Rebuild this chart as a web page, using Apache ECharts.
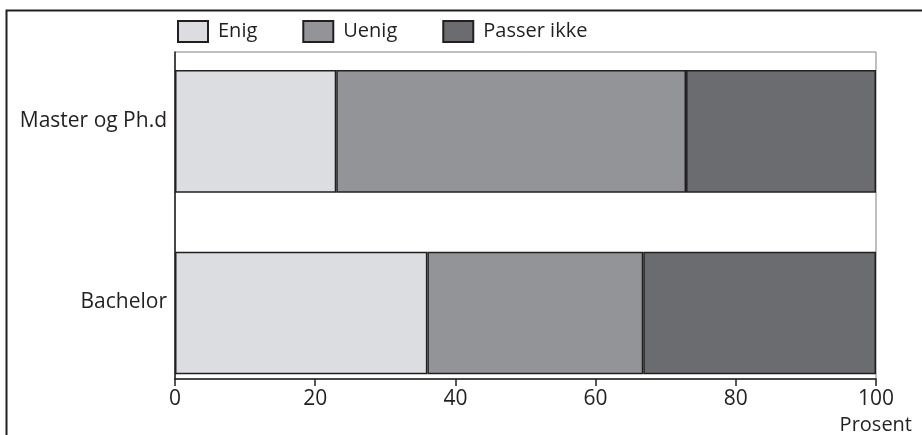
<!DOCTYPE html>
<html>
<head>
<meta charset="utf-8">
<script src="https://cdn.jsdelivr.net/npm/echarts@6/dist/echarts.min.js"></script>
<style>html,body{margin:0;padding:0;background:#fff;}#c{width:922px;height:435px;}</style>
</head>
<body>
<div id="c"></div>
<script>
const categories = ['Master og Ph.d', 'Bachelor'];
const seriesNames = ['Enig', 'Uenig', 'Passer ikke'];
const enig = [23.0, 36.0];
const uenig = [49.9, 30.8];
const passerIkke = [27.1, 33.2];
const xTicks = [0, 20, 40, 60, 80, 100];
const axisName = 'Prosent';

const colors = ['#dcdde0', '#939497', '#6b6c70'];
const dark = '#231f20';
const font = 'Open Sans';
const values = [enig, uenig, passerIkke];

const chart = echarts.init(document.getElementById('c'), null, {renderer: 'canvas'});
chart.setOption({
  animation: false,
  backgroundColor: '#fff',
  textStyle: {fontFamily: font, color: dark},
  graphic: [{
    type: 'rect', left: 4, top: 8, silent: true, z: -10,
    shape: {width: 1000, height: 1000},
    style: {fill: 'none', stroke: dark, lineWidth: 2}
  }],
  legend: {
    left: 172, top: 15,
    itemWidth: 30, itemHeight: 21, itemGap: 45,
    icon: 'rect',
    textStyle: {fontFamily: font, fontSize: 20, color: dark, padding: [0,0,0,5]},
    data: seriesNames
  },
  grid: [
    {left: 175, right: 46, top: 40.6, bottom: 31.2},
    {left: 175, right: 46, top: 52, bottom: 53, show: true, borderColor: '#808080', borderWidth: 1, backgroundColor: 'transparent'}
  ],
  xAxis: [
    {gridIndex: 0, type: 'value', min: 0, max: 100, interval: 20, show: false},
    {gridIndex: 1, type: 'value', min: 0, max: 100, interval: 20,
     splitLine: {show: false},
     axisLine: {show: true, lineStyle: {color: dark, width: 1.5}},
     axisTick: {show: true, length: 7, lineStyle: {color: dark, width: 1.5}},
     axisLabel: {fontFamily: font, fontSize: 21, color: dark, margin: 10,
       formatter: v => xTicks.includes(v) ? String(v) : ''},
     name: axisName, nameLocation: 'end', nameGap: 36,
     nameTextStyle: {fontFamily: font, fontSize: 20, color: dark, align: 'right', verticalAlign: 'top', padding: [36,0,0,0]}
    }
  ],
  yAxis: [
    {gridIndex: 0, type: 'category', inverse: true, data: categories,
     axisLine: {show: false}, axisTick: {show: false},
     axisLabel: {fontFamily: font, fontSize: 21, color: dark, margin: 8, verticalAlign: 'bottom'}
    },
    {gridIndex: 1, type: 'category', inverse: true, data: categories,
     axisLine: {show: true, lineStyle: {color: dark, width: 1.5}},
     axisTick: {show: false}, axisLabel: {show: false}, splitLine: {show: false}
    }
  ],
  series: seriesNames.map((n, i) => ({
    name: n, type: 'bar', stack: 'total', xAxisIndex: 0, yAxisIndex: 0,
    barWidth: '67.5%',
    itemStyle: {color: colors[i], borderColor: dark, borderWidth: 1.5},
    data: values[i]
  }))
});
</script>
</body>
</html>
